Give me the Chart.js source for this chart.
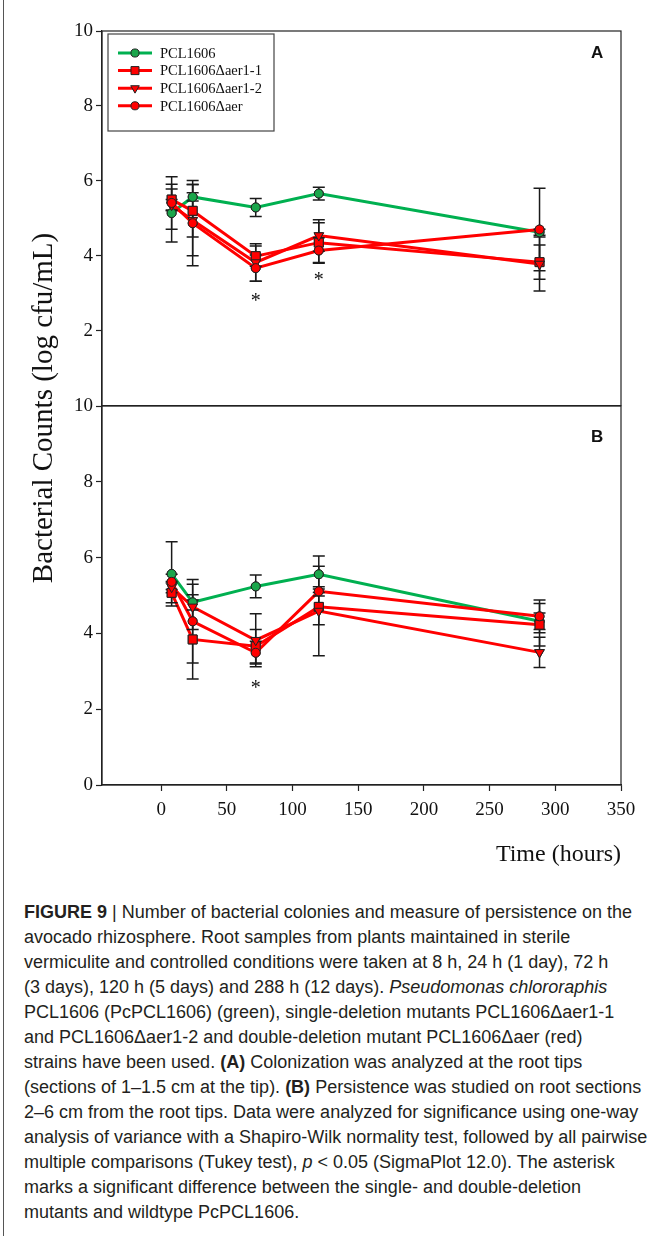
<!DOCTYPE html>
<html>
<head>
<meta charset="utf-8">
<script src="https://cdn.jsdelivr.net/npm/chart.js@4.4.1/dist/chart.umd.min.js"></script>
<style>
  html, body { margin: 0; padding: 0; background: #fff; }
  #page { position: relative; width: 662px; height: 1236px; overflow: hidden; }
  #edge { position: absolute; left: 3px; top: 0; width: 1px; height: 1236px; background: #555; }
  #chartA { position: absolute; left: 0; top: 0; }
  #chartB { position: absolute; left: 0; top: 390px; }
  #ytitle {
    position: absolute; left: 42px; top: 408px; width: 440px; height: 34px;
    margin-left: -220px; margin-top: -17px; line-height: 34px;
    text-align: center; transform: rotate(-90deg);
    font-family: "Liberation Serif", "Times New Roman", serif; font-size: 29px; color: #111;
    white-space: nowrap;
  }
  .panel { position: absolute; left: 591px; font-family: "Liberation Sans", Arial, sans-serif;
    font-weight: bold; font-size: 17px; color: #111; }
  #caption {
    position: absolute; left: 24px; top: 900px; width: 636px;
    font-family: "Liberation Sans", Arial, sans-serif; font-size: 18px; line-height: 25px;
    color: #231f20; white-space: nowrap;
  }
</style>
</head>
<body>
<div id="page">
  <div id="edge"></div>
  <canvas id="chartA" width="662" height="420"></canvas>
  <canvas id="chartB" width="662" height="480"></canvas>
  <div id="ytitle">Bacterial Counts (log cfu/mL)</div>
  <div class="panel" style="top:43px">A</div>
  <div class="panel" style="top:427px">B</div>
  <div id="caption">
    <div><b>FIGURE 9</b> | Number of bacterial colonies and measure of persistence on the</div>
    <div>avocado rhizosphere. Root samples from plants maintained in sterile</div>
    <div>vermiculite and controlled conditions were taken at 8 h, 24 h (1 day), 72 h</div>
    <div>(3 days), 120 h (5 days) and 288 h (12 days). <i>Pseudomonas chlororaphis</i></div>
    <div>PCL1606 (PcPCL1606) (green), single-deletion mutants PCL1606Δaer1-1</div>
    <div>and PCL1606Δaer1-2 and double-deletion mutant PCL1606Δaer (red)</div>
    <div>strains have been used. <b>(A)</b> Colonization was analyzed at the root tips</div>
    <div>(sections of 1–1.5 cm at the tip). <b>(B)</b> Persistence was studied on root sections</div>
    <div>2–6 cm from the root tips. Data were analyzed for significance using one-way</div>
    <div>analysis of variance with a Shapiro-Wilk normality test, followed by all pairwise</div>
    <div>multiple comparisons (Tukey test), <i>p</i> &lt; 0.05 (SigmaPlot 12.0). The asterisk</div>
    <div>marks a significant difference between the single- and double-deletion</div>
    <div>mutants and wildtype PcPCL1606.</div>
  </div>
</div>
<script>
// sampling times (hours)
const hours = [8, 24, 72, 120, 288];

const seriesNames = ["PCL1606", "PCL1606Δaer1-1", "PCL1606Δaer1-2", "PCL1606Δaer"];

// Panel A - root tips (log cfu/mL) and error bar half widths
const wtA = [5.14, 5.57, 5.29, 5.66, 4.63];
const wtErrA = [0.77, 0.11, 0.24, 0.17, 0.08];
const aer11A = [5.5, 5.2, 3.99, 4.35, 3.83];
const aer11ErrA = [0.28, 0.7, 0.27, 0.53, 0.46];
const aer12A = [5.35, 4.95, 3.82, 4.54, 3.78];
const aer12ErrA = [0.15, 0.95, 0.5, 0.42, 0.72];
const aerA = [5.41, 4.87, 3.67, 4.14, 4.7];
const aerErrA = [0.7, 1.14, 0.35, 0.34, 1.1];

// Panel B - root sections 2-6 cm
const wtB = [5.57, 4.82, 5.24, 5.56, 4.32];
const wtErrB = [0.85, 0.2, 0.3, 0.48, 0.22];
const aer11B = [5.07, 3.84, 3.66, 4.7, 4.23];
const aer11ErrB = [0.26, 1.04, 0.44, 0.47, 0.56];
const aer12B = [5.22, 4.7, 3.82, 4.59, 3.5];
const aer12ErrB = [0.15, 0.6, 0.7, 1.18, 0.4];
const aerB = [5.36, 4.32, 3.49, 5.11, 4.45];
const aerErrB = [0.2, 1.1, 0.3, 0.12, 0.43];

// significance asterisks (hour, level)
const starHoursA = [72, 120];
const starLevelA = [2.89, 3.45];
const starHoursB = [72];
const starLevelB = [2.65];

// axis ticks
const xTicks = [0, 50, 100, 150, 200, 250, 300, 350];
const yTicksA = [2, 4, 6, 8, 10];
const yTicksB = [0, 2, 4, 6, 8, 10];

const GREEN = "#00b050";
const RED = "#ff0000";
const SERIF = "'Liberation Serif', 'Times New Roman', serif";

function pts(values) {
  return values.map(function (v, i) {
    return { x: hours[i], y: v };
  });
}

function makeDatasets(wt, wtErr, a1, a1Err, a2, a2Err, a, aErr) {
  const base = {
    borderWidth: 3,
    pointBorderColor: "#222",
    pointBorderWidth: 1,
    tension: 0,
  };
  return [
    Object.assign({}, base, {
      label: seriesNames[0], data: pts(wt), errors: wtErr, order: 4,
      borderColor: GREEN, pointBackgroundColor: "#1aa64b",
      pointStyle: "circle", pointRadius: 4.5,
    }),
    Object.assign({}, base, {
      label: seriesNames[1], data: pts(a1), errors: a1Err, order: 3,
      borderColor: RED, pointBackgroundColor: RED,
      pointStyle: "rect", pointRadius: 6.3,
    }),
    Object.assign({}, base, {
      label: seriesNames[2], data: pts(a2), errors: a2Err, order: 2,
      borderColor: RED, pointBackgroundColor: RED,
      pointStyle: "triangle", pointRotation: 180, pointRadius: 5.5,
    }),
    Object.assign({}, base, {
      label: seriesNames[3], data: pts(a), errors: aErr, order: 1,
      borderColor: RED, pointBackgroundColor: RED,
      pointStyle: "circle", pointRadius: 4.5,
    }),
  ];
}

// black error bars with caps, then markers redrawn on top
const errorBars = {
  id: "errorBars",
  afterDatasetsDraw(chart) {
    const ctx = chart.ctx;
    const xs = chart.scales.x;
    const ys = chart.scales.y;
    const metas = chart.getSortedVisibleDatasetMetas().slice().reverse();
    ctx.save();
    ctx.strokeStyle = "#1a1a1a";
    ctx.lineWidth = 1.5;
    metas.forEach(function (meta) {
      const ds = chart.data.datasets[meta.index];
      ds.data.forEach(function (p, i) {
        const x = xs.getPixelForValue(p.x);
        const top = ys.getPixelForValue(p.y + ds.errors[i]);
        const bot = ys.getPixelForValue(p.y - ds.errors[i]);
        ctx.beginPath();
        ctx.moveTo(x, top);
        ctx.lineTo(x, bot);
        ctx.moveTo(x - 6, top);
        ctx.lineTo(x + 6, top);
        ctx.moveTo(x - 6, bot);
        ctx.lineTo(x + 6, bot);
        ctx.stroke();
      });
    });
    metas.forEach(function (meta) {
      meta.data.forEach(function (pt) {
        pt.draw(ctx, chart.chartArea);
      });
    });
    ctx.restore();
  },
};

// frame around the plot area plus asterisks
const frame = {
  id: "frame",
  afterDraw(chart, args, opts) {
    const ctx = chart.ctx;
    const a = chart.chartArea;
    ctx.save();
    ctx.strokeStyle = "#222";
    ctx.lineWidth = 1.2;
    ctx.strokeRect(a.left, a.top, a.right - a.left, a.bottom - a.top);
    ctx.fillStyle = "#111";
    ctx.font = "20px " + SERIF;
    ctx.textAlign = "center";
    ctx.textBaseline = "middle";
    opts.starHours.forEach(function (h, i) {
      ctx.fillText("*", chart.scales.x.getPixelForValue(h), chart.scales.y.getPixelForValue(opts.starLevel[i]) + 4);
    });
    ctx.restore();
  },
};

// boxed legend inside the upper left corner of panel A
const boxLegend = {
  id: "boxLegend",
  afterDraw(chart, args, opts) {
    if (!opts.show) return;
    const ctx = chart.ctx;
    const a = chart.chartArea;
    const left = a.left + 6;
    const top = a.top + 3;
    ctx.save();
    ctx.strokeStyle = "#444";
    ctx.lineWidth = 1.2;
    ctx.strokeRect(left, top, 166, 97);
    ctx.font = "14.5px " + SERIF;
    ctx.textBaseline = "middle";
    ctx.textAlign = "left";
    chart.data.datasets.forEach(function (ds, i) {
      const y = top + 19 + i * 17.6;
      ctx.strokeStyle = ds.borderColor;
      ctx.lineWidth = 3;
      ctx.beginPath();
      ctx.moveTo(left + 10, y);
      ctx.lineTo(left + 44, y);
      ctx.stroke();
      ctx.fillStyle = ds.pointBackgroundColor;
      ctx.strokeStyle = "#222";
      ctx.lineWidth = 1;
      Chart.helpers.drawPoint(ctx, {
        pointStyle: ds.pointStyle,
        rotation: ds.pointRotation || 0,
        radius: ds.pointRadius * 0.9,
        borderWidth: 1,
      }, left + 27, y);
      ctx.fillStyle = "#111";
      ctx.fillText(ds.label, left + 52, y + 1);
    });
    ctx.restore();
  },
};

function makeChart(id, datasets, yTicks, showX, padding, xHeight, stars, legend) {
  return new Chart(document.getElementById(id), {
    type: "line",
    data: { datasets: datasets },
    options: {
      responsive: false,
      animation: false,
      devicePixelRatio: 1,
      layout: { padding: padding },
      plugins: {
        legend: { display: false },
        tooltip: { enabled: false },
        frame: stars,
        boxLegend: { show: legend },
      },
      scales: {
        x: {
          type: "linear",
          min: -45,
          max: 350,
          display: showX,
          afterBuildTicks(scale) {
            scale.ticks = xTicks.map(function (v) { return { value: v }; });
          },
          afterFit(scale) {
            scale.height = xHeight;
          },
          grid: { drawOnChartArea: false, color: "#222", tickLength: 6, tickWidth: 1.2 },
          border: { display: true, color: "#222", width: 1.2 },
          ticks: { color: "#111", padding: 8, font: { size: 19, family: SERIF } },
          title: {
            display: true,
            text: "Time (hours)",
            align: "end",
            color: "#111",
            padding: { top: 0, bottom: 0 },
            font: { size: 24, family: SERIF },
          },
        },
        y: {
          min: 0,
          max: 10,
          afterBuildTicks(scale) {
            scale.ticks = yTicks.map(function (v) { return { value: v }; });
          },
          afterFit(scale) {
            scale.width = 102;
          },
          grid: { drawOnChartArea: false, color: "#222", tickLength: 6, tickWidth: 1.2 },
          border: { display: true, color: "#222", width: 1.2 },
          ticks: { color: "#111", padding: 3, font: { size: 19, family: SERIF } },
        },
      },
    },
    plugins: [errorBars, frame, boxLegend],
  });
}

makeChart(
  "chartA",
  makeDatasets(wtA, wtErrA, aer11A, aer11ErrA, aer12A, aer12ErrA, aerA, aerErrA),
  yTicksA, false,
  { left: 0, top: 31, right: 41, bottom: 14 }, 0,
  { starHours: starHoursA, starLevel: starLevelA }, true
);

makeChart(
  "chartB",
  makeDatasets(wtB, wtErrB, aer11B, aer11ErrB, aer12B, aer12ErrB, aerB, aerErrB),
  yTicksB, true,
  { left: 0, top: 16, right: 41, bottom: 1 }, 84,
  { starHours: starHoursB, starLevel: starLevelB }, false
);
</script>
</body>
</html>
